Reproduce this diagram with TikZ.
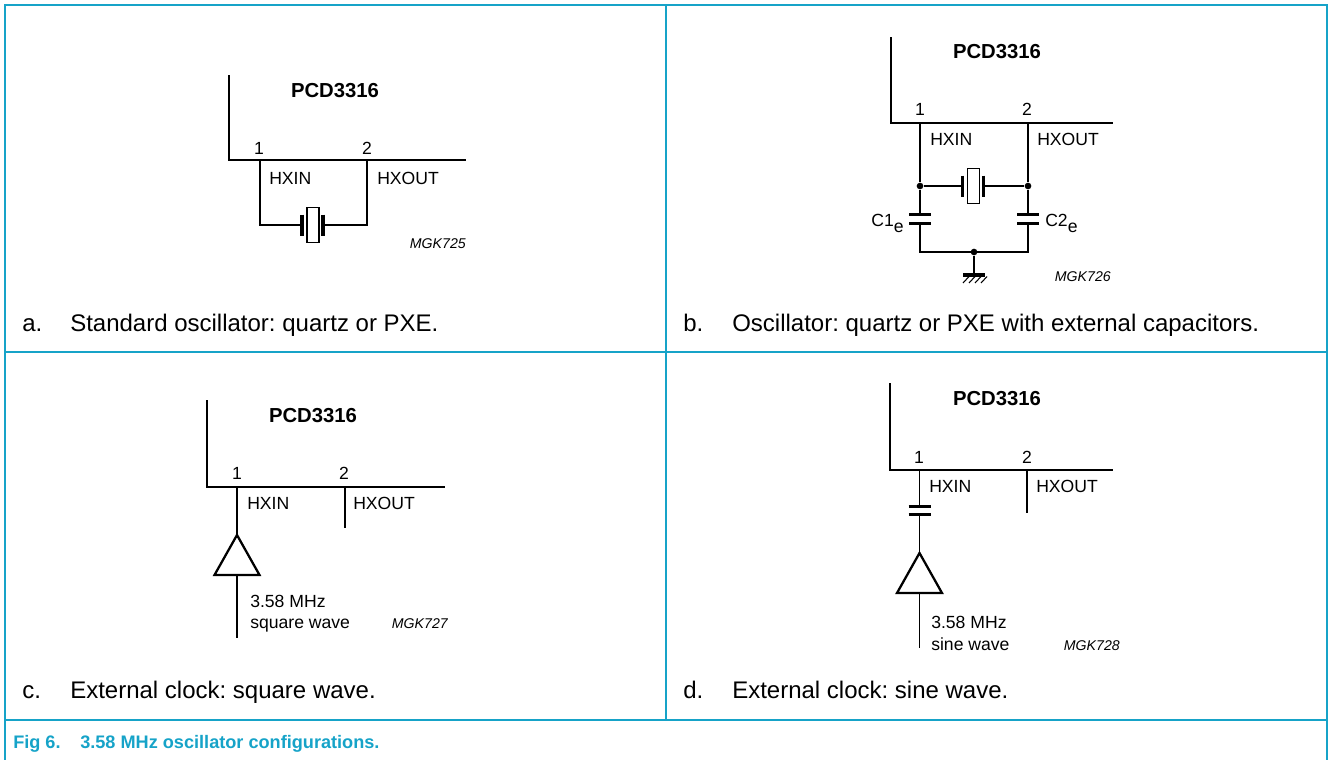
\documentclass[tikz,border=0pt]{standalone}
\usepackage{fontspec}
\setmainfont{Liberation Sans}
\definecolor{nxpblue}{RGB}{22,163,200}
\frenchspacing
\begin{document}
\begin{tikzpicture}[x=0.75pt,y=-0.75pt,
  frame/.style={draw=nxpblue,line width=1.1pt},
  chip/.style={line width=2.2pt},
  wire/.style={line width=1.05pt},
  plate/.style={line width=2.3pt},
  tri/.style={line width=1.7pt},
  lbl/.style={inner sep=0pt,anchor=base west,font=\fontsize{13.2}{15}\selectfont},
  pinno/.style={inner sep=0pt,anchor=base,font=\fontsize{13.2}{15}\selectfont},
  chipname/.style={inner sep=0pt,anchor=base,font=\bfseries\fontsize{15.2}{17}\selectfont},
  code/.style={inner sep=0pt,anchor=base east,font=\itshape\fontsize{10.6}{12}\selectfont},
  subcap/.style={inner sep=0pt,anchor=base west,font=\fontsize{18}{21}\selectfont},
  figcap/.style={inner sep=0pt,anchor=base west,text=nxpblue,font=\bfseries\fontsize{13.6}{16}\selectfont},
  dot/.style={circle,fill,inner sep=0pt,minimum size=5pt},
  xtal/.pic={
    \draw[wire] (-6,-17.5) rectangle (6,17.5);
    \draw[plate] (-11,-10.5) -- (-11,10.5);
    \draw[plate] (10,-10.5) -- (10,10.5);
    \coordinate (-l) at (-11,0);
    \coordinate (-r) at (10,0);},
  cap/.pic={
    \draw[plate] (-11,-4.25) -- (11,-4.25);
    \draw[plate] (-11,4.25) -- (11,4.25);
    \coordinate (-t) at (0,-4.25);
    \coordinate (-b) at (0,4.25);},
  amp/.pic={
    \draw[tri,line join=miter] (0,0) -- (22.5,40) -- (-22.5,40) -- cycle;
    \coordinate (-out) at (0,0);
    \coordinate (-in) at (0,40);},
  gnd/.pic={
    \draw[plate] (-11,0) -- (11,0);
    \foreach \h in {-5,1,7,13}{\draw[line width=0.8pt] (\h,1.5) -- (\h-6,8);}
    \coordinate (-t) at (0,0);}
]
\useasboundingbox (0,0) rectangle (1328,760);
% ---------- frame ----------
\draw[frame] (5,760) -- (5,5) -- (1327,5) -- (1327,760);
\draw[frame] (5,352) -- (1327,352);
\draw[frame] (5,720) -- (1327,720);
\draw[frame] (666,5) -- (666,720);

% ---------- panel a ----------
\draw[chip] (229,75) -- (229,160) -- (466,160);
\node[chipname] (pa) at (335,97) {PCD3316};
\coordinate (a1) at (260,160);
\coordinate (a2) at (367,160);
\node[pinno] (a1n) at (259,154) {1};
\node[pinno] (a2n) at (367,154) {2};
\node[lbl] (ahxin) at (269,184) {HXIN};
\node[lbl] (ahxout) at (377,184) {HXOUT};
\pic (xa) at (313,225) {xtal};
\draw[wire] (a1) |- (xa-l);
\draw[wire] (a2) |- (xa-r);
\node[code] (acode) at (466,248) {MGK725};
\node[subcap] (acapl) at (22,331) {a.};
\node[subcap] (acap) at (70,331) {Standard oscillator: quartz or PXE.};

% ---------- panel b ----------
\draw[chip] (891,37) -- (891,123) -- (1113,123);
\node[chipname] (pb) at (997,58) {PCD3316};
\coordinate (b1) at (920,123);
\coordinate (b2) at (1028,123);
\node[pinno] (b1n) at (920,115) {1};
\node[pinno] (b2n) at (1027,115) {2};
\node[lbl] (bhxin) at (930,145) {HXIN};
\node[lbl] (bhxout) at (1037,145) {HXOUT};
\node[dot] (bd1) at (920,186) {};
\node[dot] (bd2) at (1028,186) {};
\pic (xb) at (973.5,186) {xtal};
\pic (cb1) at (920,219) {cap};
\pic (cb2) at (1028,219) {cap};
\coordinate (bl) at (920,252);
\coordinate (br) at (1028,252);
\node[dot] (bg) at (974,252) {};
\pic (gb) at (974,275) {gnd};
\draw[wire] (b1) -- (bd1) -- (cb1-t);
\draw[wire] (b2) -- (bd2) -- (cb2-t);
\draw[wire] (bd1) -- (xb-l);
\draw[wire] (xb-r) -- (bd2);
\draw[wire] (cb1-b) -- (bl) -- (br) -- (cb2-b);
\draw[wire] (bg) -- (gb-t);
\node[lbl,anchor=base east] (c1e) at (904,226) {C1\raisebox{-4.5pt}{e}};
\node[lbl] (c2e) at (1045,226) {C2\raisebox{-4.5pt}{e}};
\node[code] (bcode) at (1111,281) {MGK726};
\node[subcap] (bcapl) at (683,331) {b.};
\node[subcap] (bcap) at (732,331) {Oscillator: quartz or PXE with external capacitors.};

% ---------- panel c ----------
\draw[chip] (207,400) -- (207,487) -- (445,487);
\node[chipname] (pc) at (313,422) {PCD3316};
\coordinate (c1) at (237,487);
\coordinate (c2) at (345,487);
\coordinate (c2e) at (345,528);
\node[pinno] (c1n) at (237,479) {1};
\node[pinno] (c2n) at (344,479) {2};
\node[lbl] (chxin) at (247,509) {HXIN};
\node[lbl] (chxout) at (353,509) {HXOUT};
\pic (ac) at (237,535) {amp};
\coordinate (cin) at (237,638);
\draw[wire] (c1) -- (ac-out);
\draw[wire] (ac-in) -- (cin);
\draw[wire] (c2) -- (c2e);
\node[lbl] (cf1) at (250,607) {3.58 MHz};
\node[lbl] (cf2) at (250,628) {square wave};
\node[code] (ccode) at (448,628) {MGK727};
\node[subcap] (ccapl) at (22,698) {c.};
\node[subcap] (ccap) at (70,698) {External clock: square wave.};

% ---------- panel d ----------
\draw[chip] (890,383) -- (890,470) -- (1113,470);
\node[chipname] (pd) at (997,405) {PCD3316};
\coordinate (d1) at (919.5,470);
\coordinate (d2) at (1027,470);
\coordinate (d2e) at (1027,513);
\node[pinno] (d1n) at (919,463) {1};
\node[pinno] (d2n) at (1027,463) {2};
\node[lbl] (dhxin) at (929,492) {HXIN};
\node[lbl] (dhxout) at (1036,492) {HXOUT};
\pic (cd) at (919.5,510.5) {cap};
\pic (ad) at (919.5,553) {amp};
\coordinate (din) at (919.5,648);
\draw[wire] (d1) -- (cd-t);
\draw[wire] (cd-b) -- (ad-out);
\draw[wire] (ad-in) -- (din);
\draw[wire] (d2) -- (d2e);
\node[lbl] (df1) at (931,628) {3.58 MHz};
\node[lbl] (df2) at (931,650) {sine wave};
\node[code] (dcode) at (1120,650) {MGK728};
\node[subcap] (dcapl) at (683,698) {d.};
\node[subcap] (dcap) at (732,698) {External clock: sine wave.};

% ---------- figure caption ----------
\node[figcap] (figl) at (13,748) {Fig 6.};
\node[figcap] (fig) at (80,748) {3.58 MHz oscillator configurations.};
\end{tikzpicture}
\end{document}
